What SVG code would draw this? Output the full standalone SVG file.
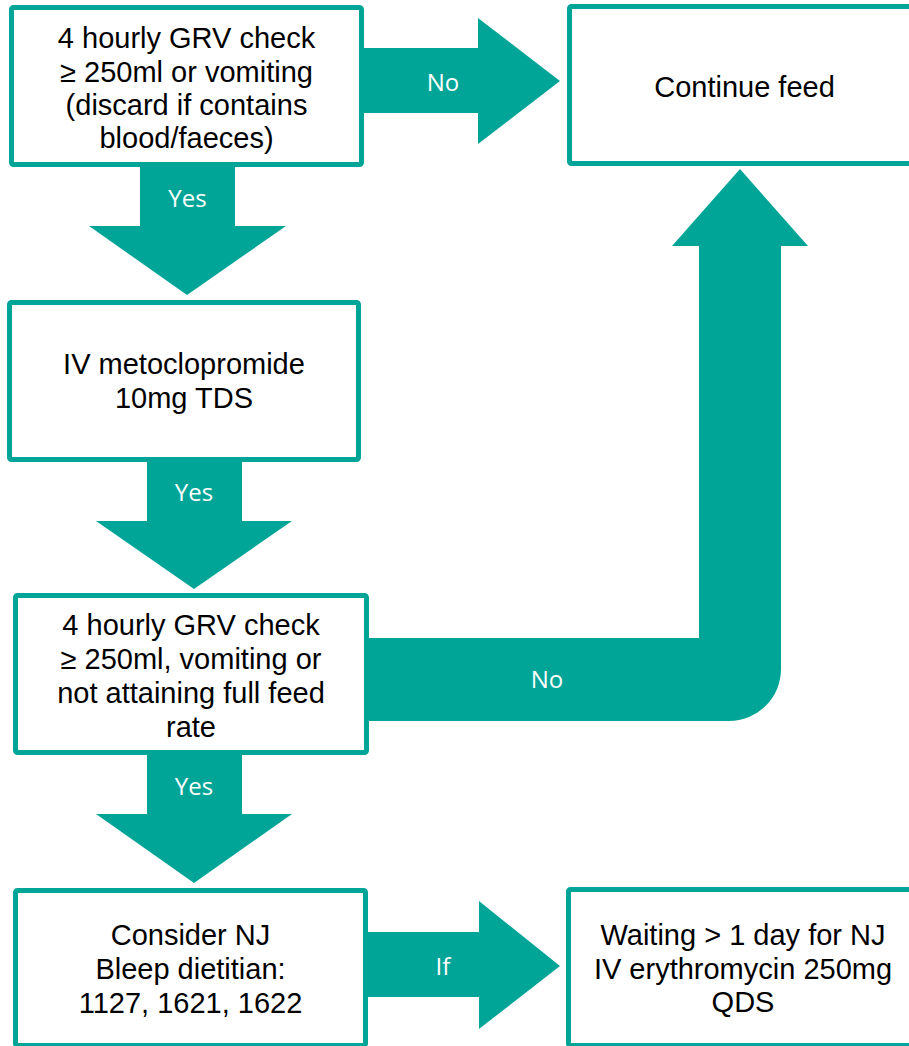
<svg xmlns="http://www.w3.org/2000/svg" width="909" height="1046" viewBox="0 0 909 1046">
<style>
.box{fill:#fff;stroke:#00A598;stroke-width:5}
.arr{fill:#00A598;stroke:none}
.t{font-family:"Liberation Sans",Arial,sans-serif;font-size:29px;fill:#000;text-anchor:middle}
.lbl{font-family:"Open Sans","Noto Sans",sans-serif;font-size:24px;fill:#fff;text-anchor:middle}
</style>
<rect width="909" height="1046" fill="#fff"/>
<g id="connectors">
<polygon class="arr" points="362,48 478,48 478,18 560,81 478,144 478,113 362,113"/>
<text class="lbl" x="443" y="91">No</text>
<polygon class="arr" points="140,165 235,165 235,226 286,226 187,295 89,226 140,226"/>
<text class="lbl" x="187.5" y="207">Yes</text>
<polygon class="arr" points="147,460 242,460 242,521 292,521 194,589 96,521 147,521"/>
<text class="lbl" x="194" y="501">Yes</text>
<polygon class="arr" points="147,753 242,753 242,814 292,814 194,883 96,814 147,814"/>
<text class="lbl" x="194" y="795">Yes</text>
<path class="arr" d="M366,638 L699,638 L699,246 L672,246 L740,169 L808,246 L781,246 L781,669 A52,52 0 0 1 729,721 L366,721 Z" stroke-linejoin="round"/>
<text class="lbl" x="547" y="688">No</text>
<polygon class="arr" points="366,932 479,932 479,901 560,966 479,1029 479,997 366,997"/>
<text class="lbl" x="443" y="975">If</text>
</g>
<g id="n1">
<rect class="box" x="11.5" y="7.5" width="350" height="157" rx="2"/>
<text class="t" x="186.5" y="48">4 hourly GRV check</text>
<text class="t" x="186.5" y="82">≥ 250ml or vomiting</text>
<text class="t" x="186.5" y="115">(discard if contains</text>
<text class="t" x="186.5" y="148">blood/faeces)</text>
</g>
<g id="n2">
<rect class="box" x="569.5" y="6.5" width="352" height="157" rx="2"/>
<text class="t" x="744.5" y="97">Continue feed</text>
</g>
<g id="n3">
<rect class="box" x="9.5" y="302.5" width="349" height="157" rx="2"/>
<text class="t" x="184" y="374">IV metoclopromide</text>
<text class="t" x="184" y="408">10mg TDS</text>
</g>
<g id="n4">
<rect class="box" x="15.5" y="595.5" width="351" height="157" rx="2"/>
<text class="t" x="191" y="635">4 hourly GRV check</text>
<text class="t" x="191" y="669">≥ 250ml, vomiting or</text>
<text class="t" x="191" y="703">not attaining full feed</text>
<text class="t" x="191" y="737">rate</text>
</g>
<g id="n5">
<rect class="box" x="15.5" y="890.5" width="350" height="155" rx="2"/>
<text class="t" x="190.5" y="945">Consider NJ</text>
<text class="t" x="190.5" y="979">Bleep dietitian:</text>
<text class="t" x="190.5" y="1013">1127, 1621, 1622</text>
</g>
<g id="n6">
<rect class="box" x="568.5" y="889.5" width="352" height="156" rx="2"/>
<text class="t" x="743" y="945">Waiting &gt; 1 day for NJ</text>
<text class="t" x="743" y="979">IV erythromycin 250mg</text>
<text class="t" x="743" y="1012">QDS</text>
</g>
</svg>
